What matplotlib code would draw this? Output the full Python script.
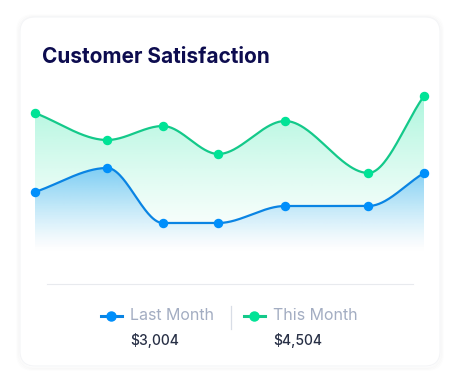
import numpy as np
import matplotlib.pyplot as plt
from matplotlib.patches import FancyBboxPatch, Polygon
from matplotlib.lines import Line2D

# day offsets of each sample (uneven spacing in the source)
days = [0, 13, 23, 33, 45, 60, 70]
this_month = [140, 113, 127, 99, 132, 80, 157]
last_month = [61, 85, 30, 30, 47, 47, 80]
series_names = ["Last Month", "This Month"]
totals = ["$3,004", "$4,504"]

BLUE = "#008ffb"
BLUE_LINE = "#0a84e3"
GREEN = "#00e396"
GREEN_LINE = "#14c98a"
FONT = "Inter"


def pchip(x, y, n=400):
    # monotone cubic (Fritsch-Carlson) for the smooth curve
    x = np.asarray(x, float)
    y = np.asarray(y, float)
    h = np.diff(x)
    d = np.diff(y) / h
    m = np.zeros_like(y)
    for k in range(1, len(y) - 1):
        if d[k - 1] * d[k] > 0:
            w1 = 2 * h[k] + h[k - 1]
            w2 = h[k] + 2 * h[k - 1]
            m[k] = (w1 + w2) / (w1 / d[k - 1] + w2 / d[k])
    m[0] = d[0]
    m[-1] = d[-1]
    xs = np.linspace(x[0], x[-1], n)
    idx = np.clip(np.searchsorted(x, xs) - 1, 0, len(h) - 1)
    t = (xs - x[idx]) / h[idx]
    h00 = 2 * t**3 - 3 * t**2 + 1
    h10 = t**3 - 2 * t**2 + t
    h01 = -2 * t**3 + 3 * t**2
    h11 = t**3 - t**2
    ys = h00 * y[idx] + h10 * h[idx] * m[idx] + h01 * y[idx + 1] + h11 * h[idx] * m[idx + 1]
    return xs, ys


def gradient_fill(ax, xs, ys, color, top_alpha, y_top, zorder):
    poly = Polygon(np.column_stack([np.r_[xs[0], xs, xs[-1]], np.r_[0, ys, 0]]),
                   closed=True, facecolor="none", edgecolor="none")
    ax.add_patch(poly)
    rgb = np.array(plt.matplotlib.colors.to_rgb(color))
    grad = np.zeros((256, 1, 4))
    grad[:, :, :3] = rgb
    a = np.linspace(1, 0, 256) ** 1.3 * top_alpha
    grad[:, 0, 3] = a
    im = ax.imshow(grad, aspect="auto", extent=[xs[0], xs[-1], 0, y_top],
                   origin="upper", zorder=zorder, interpolation="bilinear")
    im.set_clip_path(poly)


W, H = 460, 391
fig = plt.figure(figsize=(W / 100, H / 100), dpi=100)
fig.patch.set_facecolor("white")

# overlay in pixel coordinates for the card and legend
bg = fig.add_axes([0, 0, 1, 1])
bg.set_xlim(0, W)
bg.set_ylim(H, 0)
bg.axis("off")
for off, a in [(3, 0.006), (2, 0.01), (1, 0.014)]:
    bg.add_patch(FancyBboxPatch((20 - off, 17 - off + 1), 420 + 2 * off, 349 + 2 * off,
                                boxstyle="round,pad=0,rounding_size=16",
                                facecolor="none", edgecolor=(0, 0, 0, a), lw=1.5))
bg.add_patch(FancyBboxPatch((20, 17), 420, 349, boxstyle="round,pad=0,rounding_size=15",
                            facecolor="white", edgecolor="#f4f5f7", lw=0.8))

bg.text(42, 57, "Customer Satisfaction", fontsize=15, fontweight="bold",
        color="#0d0c4f", family=FONT, va="center", ha="left")
bg.plot([47, 413], [284, 284], color="#e8eaee", lw=0.8)

# legend
bg.add_line(Line2D([101, 122], [316, 316], color=BLUE_LINE, lw=2.2))
bg.plot([111.5], [316], "o", color=BLUE, ms=6.5)
bg.text(130, 316, series_names[0], fontsize=11.5, color="#a3adc2", family=FONT, va="center")
bg.text(130, 340, totals[0], fontsize=10, color="#283046", family=FONT, va="center", fontweight="medium")
bg.plot([231, 231], [306, 329], color="#d8dde6", lw=0.9)
bg.add_line(Line2D([244, 265], [316, 316], color=GREEN_LINE, lw=2.2))
bg.plot([254.5], [316], "o", color=GREEN, ms=6.5)
bg.text(273, 316, series_names[1], fontsize=11.5, color="#a3adc2", family=FONT, va="center")
bg.text(273, 340, totals[1], fontsize=10, color="#283046", family=FONT, va="center", fontweight="medium")

# chart area
ax = fig.add_axes([35 / W, (H - 253) / H, 389 / W, 180 / H])
ax.set_xlim(days[0], days[-1])
ax.set_ylim(0, 180)
ax.axis("off")
ax.patch.set_alpha(0)

gx, gy = pchip(days, this_month)
bx, by = pchip(days, last_month)
gradient_fill(ax, gx, gy, GREEN, 0.32, max(this_month), 1)
gradient_fill(ax, bx, by, BLUE, 0.42, max(last_month), 2)

ax.plot(gx, gy, color=GREEN_LINE, lw=1.6, zorder=3, solid_capstyle="round")
ax.plot(bx, by, color=BLUE_LINE, lw=1.6, zorder=3, solid_capstyle="round")
ax.plot(days, this_month, "o", color=GREEN, ms=5.8, zorder=4, clip_on=False)
ax.plot(days, last_month, "o", color=BLUE, ms=5.8, zorder=4, clip_on=False)
ax.set_xlim(days[0], days[-1])
ax.set_ylim(0, 180)

fig.savefig("out.png", dpi=100)
